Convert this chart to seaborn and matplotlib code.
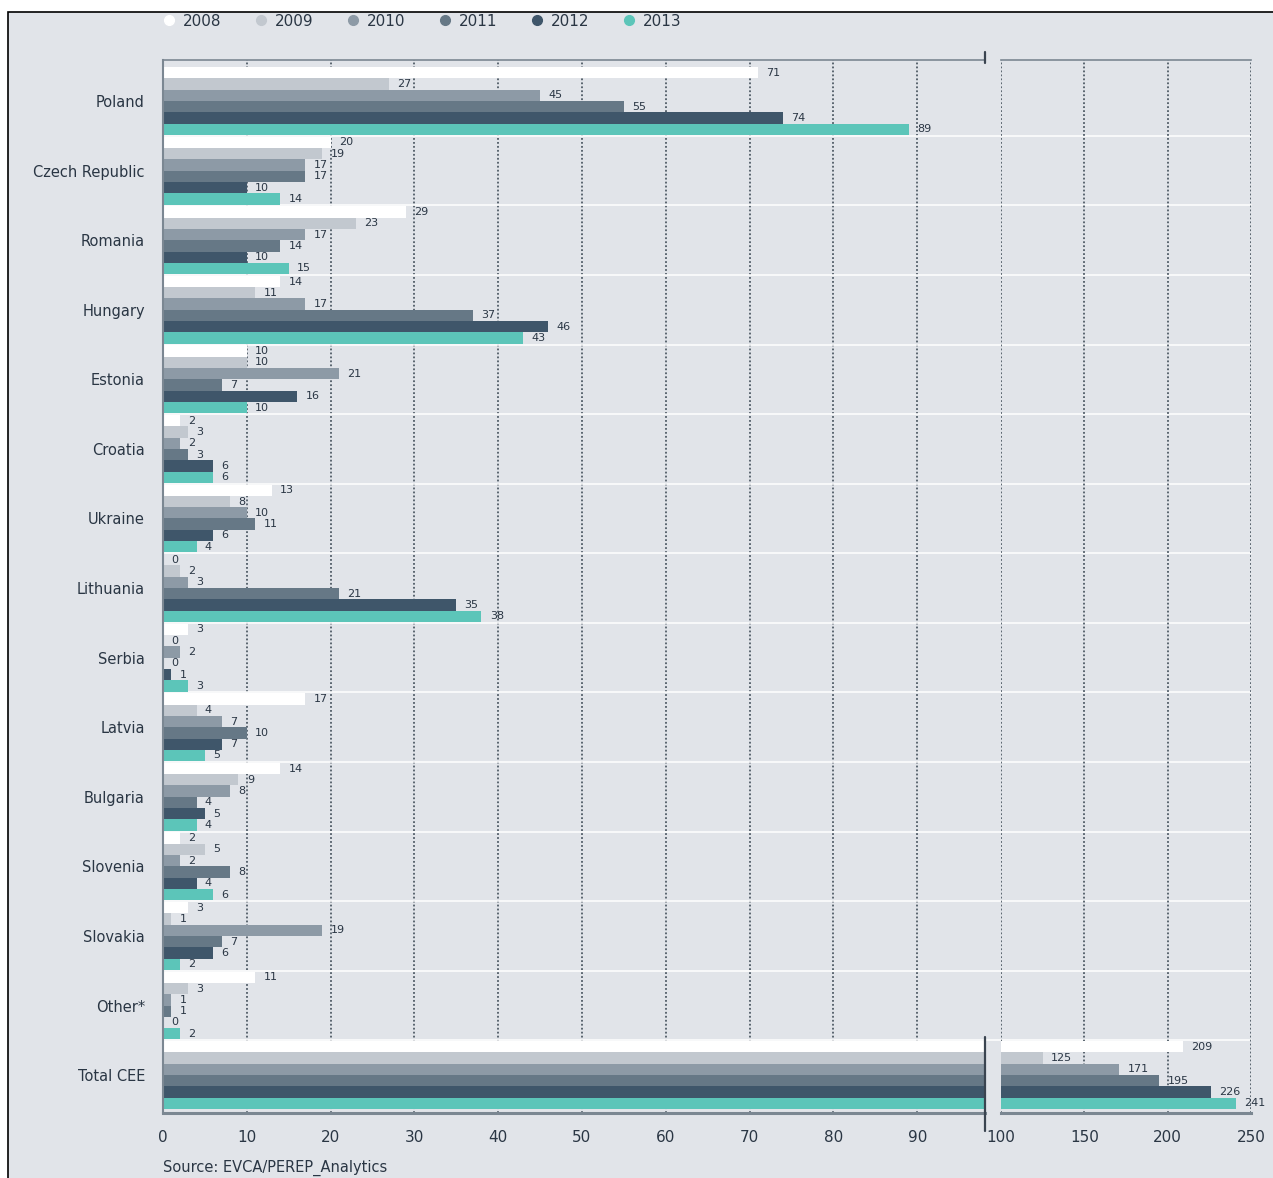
import pandas as pd
import matplotlib.pyplot as plt
import seaborn as sns
from matplotlib.lines import Line2D
from matplotlib.patches import Rectangle

plt.switch_backend('Agg')

# Dane
countries = ['Poland', 'Czech Republic', 'Romania', 'Hungary', 'Estonia', 'Croatia',
             'Ukraine', 'Lithuania', 'Serbia', 'Latvia', 'Bulgaria', 'Slovenia',
             'Slovakia', 'Other*', 'Total CEE']
years = ['2008', '2009', '2010', '2011', '2012', '2013']
v2008 = [71, 20, 29, 14, 10, 2, 13, 0, 3, 17, 14, 2, 3, 11, 209]
v2009 = [27, 19, 23, 11, 10, 3, 8, 2, 0, 4, 9, 5, 1, 3, 125]
v2010 = [45, 17, 17, 17, 21, 2, 10, 3, 2, 7, 8, 2, 19, 1, 171]
v2011 = [55, 17, 14, 37, 7, 3, 11, 21, 0, 10, 4, 8, 7, 1, 195]
v2012 = [74, 10, 10, 46, 16, 6, 6, 35, 1, 7, 5, 4, 6, 0, 226]
v2013 = [89, 14, 15, 43, 10, 6, 4, 38, 3, 5, 4, 6, 2, 2, 241]
colors = ['#ffffff', '#c2c8cf', '#8d9aa6', '#667886', '#3f566a', '#5cc5b9']

series = [v2008, v2009, v2010, v2011, v2012, v2013]
rows = []
for year, vals in zip(years, series):
    for c, v in zip(countries, vals):
        rows.append({'country': c, 'year': year, 'value': v})
df = pd.DataFrame(rows)
palette = dict(zip(years, colors))

bg = '#e1e4e9'
txt = '#2a3644'
grid_c = '#4f5b66'
spine_c = '#7b8792'

sns.set_style('white')
plt.rcParams['font.family'] = ['DejaVu Sans']

W, H = 1273, 1178
fig = plt.figure(figsize=(W / 100, H / 100), dpi=100, facecolor='white')
fig.patches.append(Rectangle((8 / W, -0.1), 1.2, (H - 12) / H + 0.1, transform=fig.transFigure,
                             facecolor=bg, edgecolor='black', lw=1.2, zorder=-10))

top = (H - 60) / H
bottom = (H - 1113) / H
ax1 = fig.add_axes([163 / W, bottom, (985 - 163) / W, top - bottom])
ax2 = fig.add_axes([1001 / W, bottom, (1251 - 1001) / W, top - bottom])

xmax1 = (985 - 163) / 8.38
for ax in (ax1, ax2):
    ax.set_facecolor('none')
    sns.barplot(data=df, y='country', x='value', hue='year', hue_order=years, order=countries,
                palette=palette, orient='h', width=0.975, saturation=1, linewidth=0,
                legend=False, ax=ax)
    ax.set_ylim(14.545, -0.59)
    ax.set_axisbelow(True)
    ax.grid(axis='x', color=grid_c, lw=1.3, linestyle=(0, (1, 1.2)))
    ax.grid(axis='y', visible=False)
    ax.set_xlabel('')
    ax.set_ylabel('')
    ax.spines['right'].set_visible(False)
    ax.spines['top'].set_color(spine_c)
    ax.spines['top'].set_linewidth(1.2)
    ax.spines['bottom'].set_color(spine_c)
    ax.spines['bottom'].set_linewidth(2.2)
    ax.tick_params(axis='x', length=0, pad=12, labelsize=11, labelcolor=txt)
    ax.tick_params(axis='y', length=0)

# Białe linie oddzielające grupy (przez obie części osi)
span = (1251 - 163) / (985 - 163)
for k in range(14):
    ax1.axhline(k + 0.5, xmin=0, xmax=span, color='white', lw=1.1, zorder=0.8, clip_on=False)

ax1.set_xlim(0, xmax1)
ax1.set_xticks(range(0, 100, 10))
ax1.spines['left'].set_color(spine_c)
ax1.spines['left'].set_linewidth(1.5)
ax1.tick_params(axis='y', pad=13, labelsize=10.5, labelcolor=txt)

ax2.set_xlim(100, 250)
ax2.set_xticks([100, 150, 200, 250])
ax2.spines['left'].set_visible(False)
ax2.set_yticks([])

# Etykiety wartości
for cont, vals in zip(ax1.containers, series):
    labels = [str(v) if v < 100 else '' for v in vals]
    ax1.bar_label(cont, labels=labels, padding=6, fontsize=8, color=txt)
for cont, vals in zip(ax2.containers, series):
    labels = [str(v) if v >= 100 else '' for v in vals]
    ax2.bar_label(cont, labels=labels, padding=6, fontsize=8, color=txt)

# Znaczniki przerwania osi
ax1.plot([xmax1, xmax1], [13.45, 14.8], color='#3a4450', lw=1.6, clip_on=False, zorder=5)
ax1.plot([xmax1, xmax1], [-0.59 - 0.12, -0.59 + 0.05], color='#3a4450', lw=1.6, clip_on=False, zorder=5)

# Legenda
handles = [Line2D([], [], marker='o', linestyle='', markersize=7, markerfacecolor=c,
                  markeredgecolor=c) for c in colors]
fig.legend(handles, years, loc='center left', bbox_to_anchor=(163 / W, (H - 21) / H),
           ncol=6, frameon=False, fontsize=11, handlelength=0.8, handletextpad=0.5,
           columnspacing=2.2, labelcolor=txt, borderaxespad=0, borderpad=0)

fig.text(163 / W, (H - 1160) / H, 'Source: EVCA/PEREP_Analytics', fontsize=10.5,
         color=txt, va='top', ha='left')

fig.savefig('out.png', dpi=100, facecolor='white')
